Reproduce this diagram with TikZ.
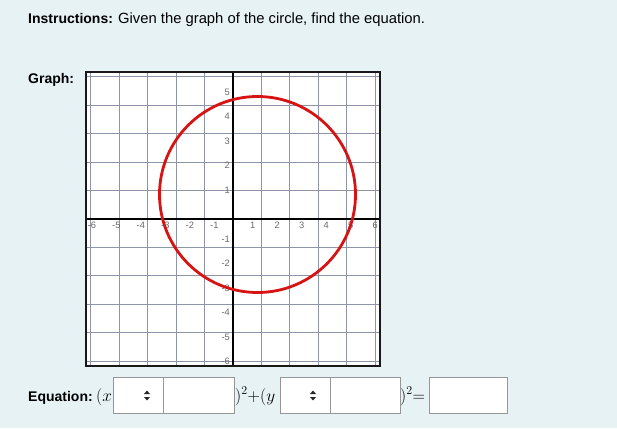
\documentclass[tikz,border=0pt]{standalone}
\usepackage[no-math]{fontspec}
\setmainfont{Liberation Sans}
\definecolor{bgc}{RGB}{231,242,245}
\definecolor{gridc}{RGB}{140,150,168}
\definecolor{labc}{RGB}{105,105,105}
\definecolor{circc}{RGB}{215,20,20}
\definecolor{boxc}{RGB}{150,150,150}
\tikzset{
  lab/.style={font=\fontsize{9.3}{10}\selectfont, text=labc, inner sep=0pt},
  txt/.style={font=\fontsize{14}{16}\selectfont, inner sep=0pt, anchor=base west},
  mth/.style={font=\fontsize{18}{20}\selectfont, inner sep=0pt, anchor=base west},
  selbox/.style={draw=boxc, fill=white, line width=0.8pt},
}
\begin{document}
\begin{tikzpicture}[x=1pt,y=-1pt]
\useasboundingbox (0,0) rectangle (617,428);
\fill[bgc] (0,0) rectangle (617,428);
% texts
\node[txt] (instr) at (28,24) {\textbf{Instructions:} {\fontsize{14.8}{16}\selectfont Given the graph of the circle, find the equation.}};
\node[txt] (graphlbl) at (28,83) {\textbf{Graph:}};
\node[txt] (eqlbl) at (28,401) {\textbf{Equation:}};
% graph
\begin{scope}[shift={(233pt,-219pt)}, x=24.5pt, y=24.5pt]
  \fill[white] (-6,-6) rectangle (6,6);
  \draw[gridc, line width=1pt] (-6,-6) grid (6,6);
  \foreach \i in {-6,-5,-4,-3,-2,-1}{
    \node[lab, anchor=north west] (xl\i) at ([xshift=1.5pt,yshift=-3pt]\i,0) {\i};
  }
  \foreach \i in {1,...,6}{
    \node[lab, anchor=north east] (xl\i) at ([xshift=-2pt,yshift=-3pt]\i,0) {\i};
  }
  \foreach \j in {-6,...,-1,1,2,3,4,5}{
    \node[lab, anchor=south east] (yl\j) at ([xshift=-3pt,yshift=1pt]0,\j) {\j};
  }
  \draw[black, line width=2.8pt] (-6,0) -- (6,0);
  \draw[black, line width=2.8pt] (0,-6) -- (0,6);
  \draw[black!90, line width=2.6pt] (-6,-6) rectangle (6,6);
  \draw[circc, line width=2.8pt] (1,1) circle (4);
\end{scope}
% equation line
\node[mth] (m1) at (96,401) {$(x$};
\node[mth] (m2) at (235,401) {$)^2{+}(y$};
\node[mth] (m3) at (400,401) {$)^2{=}$};
\draw[selbox] (113,377) rectangle (163,413);
\draw[selbox] (163,377) rectangle (234,413);
\draw[selbox] (280,377) rectangle (330,413);
\draw[selbox] (330,377) rectangle (400,413);
\draw[selbox] (429,377) rectangle (507,413);
\foreach \cx in {147,313}{
  \fill[black!85] (\cx-3,394) -- (\cx+3,394) -- (\cx,390.5) -- cycle;
  \fill[black!85] (\cx-3,397) -- (\cx+3,397) -- (\cx,400.5) -- cycle;
}
\end{tikzpicture}
\end{document}
